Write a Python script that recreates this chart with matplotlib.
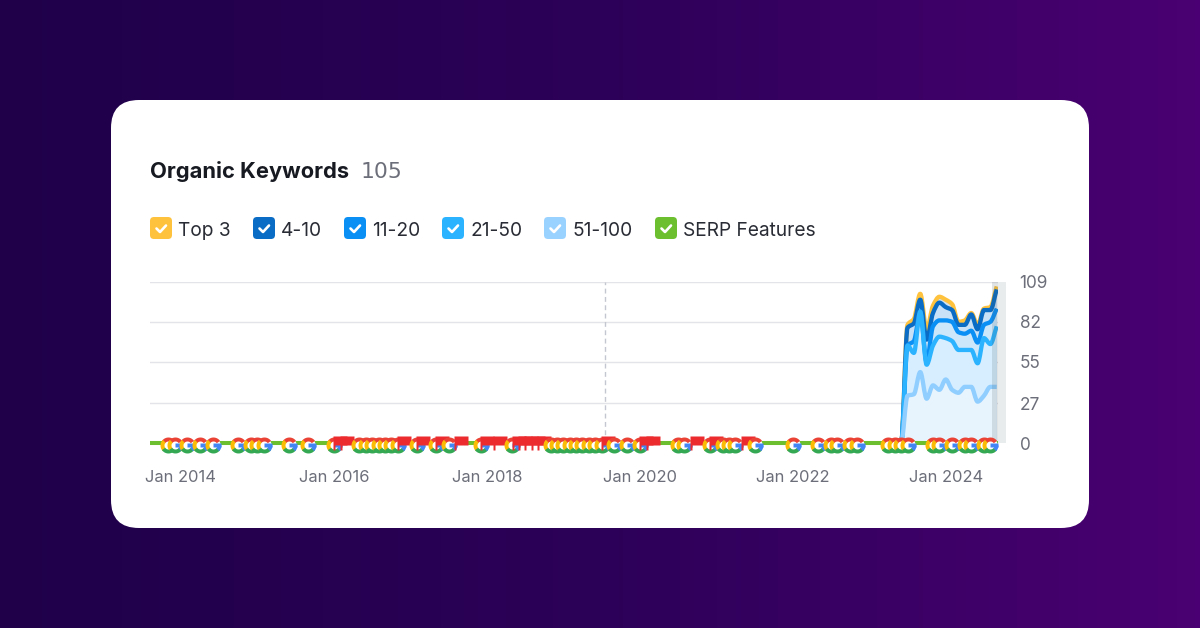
import matplotlib
matplotlib.use("Agg")
import matplotlib.pyplot as plt
import numpy as np
from matplotlib.colors import LinearSegmentedColormap
from matplotlib.patches import FancyBboxPatch, PathPatch
from matplotlib.path import Path

# months counted from Jan 2014
months = list(range(113, 129))
top3 = [0, 80, 84, 101, 77, 93, 99, 97, 94, 82, 83, 88, 80, 91, 92, 106]
pos4_10 = [0, 78, 81, 97, 70, 88, 95, 92, 90, 80, 80, 87, 77, 90, 90, 104]
pos11_20 = [0, 66, 69, 88, 55, 79, 83, 83, 82, 75, 74, 76, 68, 80, 82, 91]
pos21_50 = [0, 66, 61, 89, 53, 66, 72, 71, 69, 63, 63, 63, 54, 71, 67, 79]
pos51_100 = [0, 32, 33, 48, 30, 39, 36, 43, 36, 34, 38, 38, 28, 32, 38, 38]

google_months = [-2, -1, 1, 3, 5, 9, 11, 12, 13, 17, 20, 24, 28, 29, 30, 31, 32, 33, 34,
                 37, 40, 42, 47, 52, 58, 59, 60, 61, 62, 63, 64, 65, 66, 68, 70, 72,
                 78, 79, 83, 85, 86, 87, 90, 96, 100, 102, 103, 105, 106, 111, 112, 113,
                 114, 118, 119, 121, 123, 124, 126, 127]
flag_months = [25, 26, 35, 38, 41, 44, 48, 50, 53, 54, 55, 56, 57, 67, 73, 74, 81, 84, 89]

y_ticks = [0, 27, 55, 82, 109]
x_ticks = [0, 24, 48, 72, 96, 120]
x_labels = ["Jan 2014", "Jan 2016", "Jan 2018", "Jan 2020", "Jan 2022", "Jan 2024"]

legend_names = ["Top 3", "4-10", "11-20", "21-50", "51-100", "SERP Features"]
legend_colors = ["#FFC23D", "#0A6CC4", "#0A8FF5", "#2BB3FF", "#9AD2FF", "#6CBF2F"]
legend_box_x = [150, 253, 344, 442, 544, 655]

plt.rcParams["font.family"] = ["Inter", "DejaVu Sans"]


def ring(theta1, theta2):
    # ring segment of radius 1, used as a marker
    t = np.radians(np.linspace(theta1, theta2, 24))
    outer = np.column_stack([np.cos(t), np.sin(t)])
    pts = np.vstack([outer, 0.5 * outer[::-1], outer[:1]])
    return Path(pts, closed=True)


def smooth_path(xs, ys):
    # monotone cubic through the points, like the chart's own line
    xs = np.asarray(xs, float)
    ys = np.asarray(ys, float)
    sec = np.diff(ys) / np.diff(xs)
    slope = np.zeros(len(xs))
    for i in range(1, len(xs) - 1):
        if sec[i - 1] * sec[i] > 0:
            slope[i] = 2 * sec[i - 1] * sec[i] / (sec[i - 1] + sec[i])
    slope[-1] = sec[-1]
    verts = [(xs[0], ys[0])]
    codes = [Path.MOVETO]
    for i in range(len(xs) - 1):
        h = (xs[i + 1] - xs[i]) / 3
        verts += [(xs[i] + h, ys[i] + slope[i] * h), (xs[i + 1] - h, ys[i + 1] - slope[i + 1] * h), (xs[i + 1], ys[i + 1])]
        codes += [Path.CURVE4] * 3
    return verts, codes


g_parts = [
    (ring(35, 145), "#EA4335"),
    (ring(135, 225), "#FBBC05"),
    (ring(215, 325), "#34A853"),
    (ring(-45, 0), "#4285F4"),
    (Path([(0.02, -0.22), (1, -0.22), (1, 0.2), (0.02, 0.2), (0.02, -0.22)], closed=True), "#4285F4"),
]
flag_path = Path([(-1, 1), (1, 1), (1, -0.29), (-0.65, -0.29), (-0.65, -1), (-1, -1), (-1, 1)], closed=True)

fig = plt.figure(figsize=(12, 6.28), dpi=100)

# background and card, in pixel coordinates
bg = fig.add_axes([0, 0, 1, 1])
bg.set_xlim(0, 1200)
bg.set_ylim(628, 0)
bg.axis("off")
cmap = LinearSegmentedColormap.from_list("bg", ["#1F0049", "#2C0058", "#4A0072"])
bg.imshow(np.linspace(0, 1, 256)[None, :], cmap=cmap, extent=(0, 1200, 628, 0), aspect="auto", zorder=0)
bg.add_patch(FancyBboxPatch((139, 128), 922, 372, boxstyle="round,pad=28,rounding_size=28", fc="white", ec="none", zorder=1))

bg.text(150, 172, "Organic Keywords", fontsize=15.75, fontweight="bold", color="#181A22", va="center", zorder=2)
bg.text(361, 172, "105", fontsize=15.75, family=["DejaVu Sans"], color="#6C6E79", va="center", zorder=2)

for name, color, bx in zip(legend_names, legend_colors, legend_box_x):
    bg.add_patch(FancyBboxPatch((bx + 4, 221), 14, 14, boxstyle="round,pad=4,rounding_size=4", fc=color, ec="none", zorder=2))
    bg.plot([bx + 6.5, bx + 10, bx + 16], [228.5, 232, 225.5], color="white", lw=1.9, zorder=3, solid_capstyle="round")
    bg.text(bx + 28, 231, name, fontsize=13.8, color="#2A2C35", va="center", zorder=3)

# chart
ax = fig.add_axes([150 / 1200, 1 - 443 / 628, 848 / 1200, 161 / 628])
ax.patch.set_alpha(0)
ax.set_xlim(-4.86, 128.2)
ax.set_ylim(0, 109)
for s in ax.spines.values():
    s.set_visible(False)
ax.yaxis.tick_right()
ax.set_yticks(y_ticks)
ax.set_xticks(x_ticks, x_labels)
ax.tick_params(length=0)
ax.tick_params(axis="x", pad=19.5, labelsize=11.9, colors="#6C6E79")
ax.tick_params(axis="y", pad=15.5, labelsize=12.4, colors="#6C6E79")
ax.grid(axis="y", color="#E2E4E9", lw=1)
ax.set_axisbelow(True)
ax.axvline(66.5, color="#C4C7CF", lw=1, ls=(0, (3.5, 2.5)), zorder=1)

series = [top3, pos4_10, pos11_20, pos21_50, pos51_100]
fills = ["#CFE2F3", "#C9E1F6", "#CDE7FA", "#D6EEFF", "#E8F4FD"]
line_colors = legend_colors[:4] + ["#90CEFF"]
for i, (vals, fill, color) in enumerate(zip(series, fills, line_colors)):
    verts, codes = smooth_path(months, vals)
    area = Path(verts + [(months[-1], 0), (months[0], 0), (months[0], 0)],
                codes + [Path.LINETO, Path.LINETO, Path.CLOSEPOLY])
    ax.add_patch(PathPatch(area, fc=fill, ec="none", zorder=2 + i * 0.1))
for i, (vals, color) in enumerate(zip(series, line_colors)):
    verts, codes = smooth_path(months, vals)
    ax.add_patch(PathPatch(Path(verts, codes), fc="none", ec=color, lw=3.1, joinstyle="round", zorder=3 + i * 0.1))

ax.axvspan(127.2, 128.2, color="#4A5A60", alpha=0.16, lw=0, zorder=4)
ax.axvspan(128.2, 129.4, color="#E8ECEC", lw=0, zorder=1, clip_on=False)

# SERP features row
ax.plot([-4.86, 128.2], [0, 0], color=legend_colors[5], lw=2.9, clip_on=False, zorder=5, solid_capstyle="butt")
events = sorted([(m, "g") for m in google_months] + [(m, "f") for m in flag_months])
for n, (m, kind) in enumerate(events):
    z = 6 + n * 0.01
    if kind == "g":
        ax.plot([m], [-1.4], marker="o", ms=10.5, mfc="white", mec="none", clip_on=False, zorder=z)
        for path, color in g_parts:
            ax.plot([m], [-1.4], marker=path, ms=11.5, mfc=color, mec="none", clip_on=False, zorder=z)
    else:
        ax.plot([m], [0], marker=flag_path, ms=10.4, mfc="#EC2B2E", mec="none", clip_on=False, zorder=z)

fig.savefig("out.png", dpi=100)
plt.close(fig)
